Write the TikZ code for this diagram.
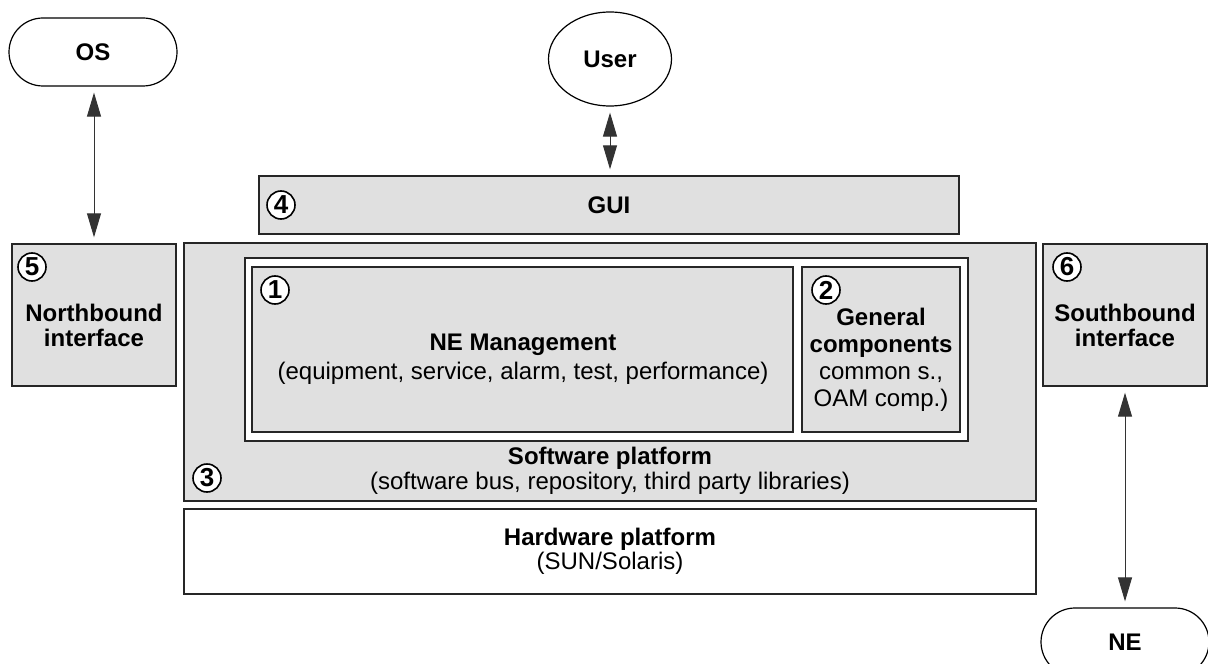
\documentclass[tikz,border=0pt]{standalone}
\usepackage{fontspec}
\setmainfont{Liberation Sans}
\usetikzlibrary{shapes,arrows.meta,positioning,calc}

\begin{document}
\begin{tikzpicture}[x=0.5pt,y=-0.5pt,
    font=\fontsize{12}{12.5}\selectfont,
    block/.style={draw=black!85,line width=0.7pt,fill=black!12,inner sep=0pt},
    plain/.style={draw=black!85,line width=0.7pt,fill=white,inner sep=0pt},
    term/.style={draw,line width=0.6pt,rounded corners=17pt,minimum width=84pt,minimum height=34pt,font=\fontsize{12}{12}\selectfont\bfseries},
    num/.style={circle,draw,line width=0.8pt,fill=white,minimum size=14pt,inner sep=0pt,font=\fontsize{13}{13}\selectfont\bfseries},
    link/.style={draw=black!80,line width=0.5pt,{Triangle[length=12pt,width=7pt]}-{Triangle[length=12pt,width=7pt]},shorten <=3pt,shorten >=3pt}]
    \useasboundingbox (0,0) rectangle (1208,663);

    % Outside world
    \node[term] (os) at (93,52) {OS};
    \node[ellipse,draw,line width=0.6pt,minimum width=61.5pt,minimum height=47pt,font=\fontsize{12}{12}\selectfont\bfseries] (user) at (610,59) {User};
    \node[term] (ne) at (1125,642) {NE};

    % GUI
    \node[block,minimum width=350pt,minimum height=29pt,font=\fontsize{12}{12}\selectfont\bfseries] (gui) at (609,205) {GUI};
    \node[num] (n4) at (281,205) {4};

    % Software platform
    \node[block,minimum width=426pt,minimum height=129pt] (sw) at (610,372) {};
    \node[align=center] (swtext) at (610,471) {\textbf{Software platform}\\(software bus, repository, third party libraries)};
    \node[num] (n3) at (207,478) {3};

    % NE management and general components
    \node[plain,minimum width=361.5pt,minimum height=91.5pt] (frame) at (606.5,349.5) {};
    \node[block,minimum width=270.5pt,minimum height=82.5pt] (nem) at (522.5,349.5) {};
    \node[block,minimum width=79pt,minimum height=82.5pt] (gen) at (881,349.5) {};
    \node[align=center] (nemtext) at (523,359) {\textbf{NE Management}\\[2pt](equipment, service, alarm, test, performance)};
    \node[align=center,font=\fontsize{12}{13.5}\selectfont] (gentext) at (881,360) {\textbf{General}\\\textbf{components}\\common s.,\\OAM comp.)};
    \node[num] (n1) at (275,290) {1};
    \node[num] (n2) at (826,290) {2};

    % Hardware platform
    \node[plain,minimum width=426pt,minimum height=42.5pt] (hw) at (610,551.5) {};
    \node[align=center,font=\fontsize{12}{11}\selectfont] (hwtext) at (610,551) {\textbf{Hardware platform}\\(SUN/Solaris)};

    % Interfaces
    \node[block,minimum width=82pt,minimum height=71pt] (nb) at (94,315) {};
    \node[align=center,font=\fontsize{12}{12.5}\selectfont\bfseries] (nbtext) at (94,325) {Northbound\\interface};
    \node[num] (n5) at (32,267) {5};
    \node[block,minimum width=82pt,minimum height=71pt] (sb) at (1125,315) {};
    \node[align=center,font=\fontsize{12}{12.5}\selectfont\bfseries] (sbtext) at (1125,325) {Southbound\\interface};
    \node[num] (n6) at (1067,267) {6};

    % Connections
    \draw[link] (os.south -| nb.north) -- (nb.north);
    \draw[link] (user.south) -- (user.south |- gui.north);
    \draw[link] (sb.south) -- (ne.north);
\end{tikzpicture}
\end{document}
